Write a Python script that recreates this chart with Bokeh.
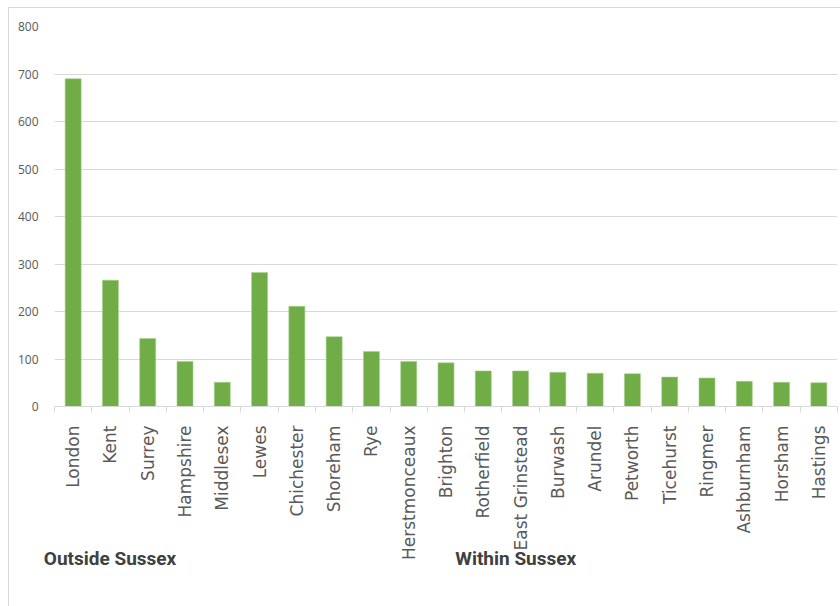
from bokeh.plotting import figure
from bokeh.models import FixedTicker, Range1d, LinearAxis
from bokeh.embed import file_html
from bokeh.resources import INLINE
import math

places = ["London", "Kent", "Surrey", "Hampshire", "Middlesex",
          "Lewes", "Chichester", "Shoreham", "Rye", "Herstmonceaux",
          "Brighton", "Rotherfield", "East Grinstead", "Burwash", "Arundel",
          "Petworth", "Ticehurst", "Ringmer", "Ashburnham", "Horsham", "Hastings"]
counts = [690, 266, 143, 95, 51,
          282, 211, 147, 116, 95,
          92, 75, 75, 72, 70,
          69, 62, 60, 53, 51, 50]
y_ticks = [0, 100, 200, 300, 400, 500, 600, 700, 800]
group_names = ["Outside Sussex", "Within Sussex"]

xs = list(range(len(places)))

p = figure(width=832, height=599, output_backend="svg", toolbar_location=None,
           x_range=Range1d(-0.5, len(places) - 0.5), y_range=Range1d(0, 800),
           min_border_left=45, min_border_right=4, min_border_top=18, min_border_bottom=201,
           margin=(7, 0, 0, 8))
p.styles = {"border-top": "1px solid #d9d9d9", "border-left": "1px solid #d9d9d9"}
p.outline_line_color = None
p.background_fill_color = "white"
p.border_fill_color = "white"

p.vbar(x=xs, top=counts, width=0.43, fill_color="#70AD47", line_color="#A9D18E", line_width=0.6)

# y axis
p.yaxis.ticker = FixedTicker(ticks=y_ticks)
p.yaxis.axis_line_color = None
p.yaxis.major_tick_line_color = None
p.yaxis.minor_tick_line_color = None
p.yaxis.major_label_text_color = "#595959"
p.yaxis.major_label_text_font = "Open Sans"
p.yaxis.major_label_text_font_size = "12px"
p.yaxis.major_label_standoff = 10
p.ygrid.grid_line_color = "#D9D9D9"
p.ygrid.grid_line_width = 1
p.xgrid.grid_line_color = None

# x axis: labels at centers, ticks between categories
bounds = [i - 0.5 for i in range(len(places) + 1)]
p.xaxis.ticker = FixedTicker(ticks=xs, minor_ticks=bounds)
p.xaxis.major_label_overrides = {i: name for i, name in enumerate(places)}
p.xaxis.major_tick_line_color = None
p.xaxis.major_tick_out = 0
p.xaxis.minor_tick_line_color = "#D9D9D9"
p.xaxis.minor_tick_out = 6
p.xaxis.minor_tick_in = 0
p.xaxis.axis_line_color = "#D9D9D9"
p.xaxis.major_label_orientation = math.pi / 2
p.xaxis.major_label_text_color = "#595959"
p.xaxis.major_label_text_font = "DejaVu Sans"
p.xaxis.major_label_text_font_size = "17px"
p.xaxis.major_label_standoff = 13

# group labels as a second, tick-less axis below
group_pos = [0.99, 11.87]
gaxis = LinearAxis(ticker=FixedTicker(ticks=group_pos, minor_ticks=[]),
                   major_label_overrides={gx: n for gx, n in zip(group_pos, group_names)})
gaxis.axis_line_color = None
gaxis.major_tick_line_color = None
gaxis.minor_tick_line_color = None
gaxis.major_tick_out = 0
gaxis.major_label_standoff = -17
gaxis.major_label_text_font = "Roboto"
gaxis.major_label_text_font_style = "bold"
gaxis.major_label_text_font_size = "19px"
gaxis.major_label_text_color = "#404040"
p.add_layout(gaxis, "below")

open("out.html", "w").write(file_html(p, INLINE))
